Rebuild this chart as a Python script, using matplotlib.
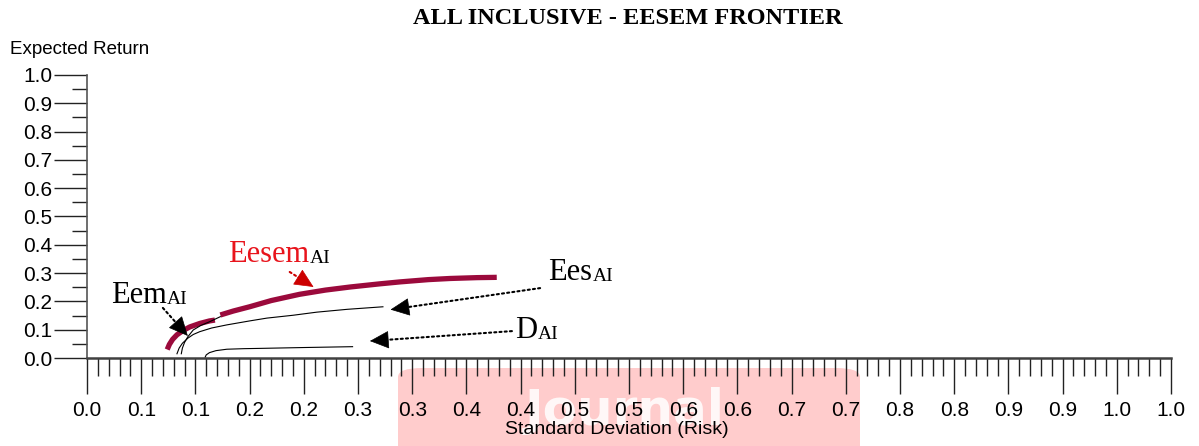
import matplotlib
matplotlib.use("Agg")
import matplotlib.pyplot as plt
from matplotlib.patches import FancyBboxPatch

# frontier curves (std dev, expected return)
eesem_lo_x = [0.074, 0.076, 0.079, 0.083, 0.089, 0.095, 0.104, 0.113, 0.118]
eesem_lo_y = [0.030, 0.048, 0.066, 0.082, 0.098, 0.110, 0.122, 0.131, 0.134]
eesem_hi_x = [0.123, 0.135, 0.150, 0.170, 0.196, 0.220, 0.243, 0.270, 0.289, 0.315, 0.335, 0.360, 0.378]
eesem_hi_y = [0.152, 0.166, 0.181, 0.203, 0.225, 0.240, 0.251, 0.262, 0.269, 0.277, 0.281, 0.284, 0.285]
eem_x = [0.087, 0.088, 0.090, 0.093, 0.098, 0.105, 0.113, 0.118, 0.123]
eem_y = [0.015, 0.035, 0.055, 0.075, 0.099, 0.115, 0.128, 0.137, 0.146]
ees_x = [0.083, 0.085, 0.088, 0.093, 0.098, 0.104, 0.115, 0.129, 0.150, 0.166, 0.190, 0.212, 0.240, 0.273]
ees_y = [0.015, 0.035, 0.052, 0.070, 0.083, 0.093, 0.106, 0.117, 0.131, 0.141, 0.151, 0.162, 0.172, 0.181]
d_x = [0.109, 0.110, 0.113, 0.119, 0.129, 0.145, 0.160, 0.200, 0.245]
d_y = [0.003, 0.011, 0.019, 0.026, 0.031, 0.033, 0.034, 0.037, 0.040]

x_ticks = [i * 0.05 for i in range(21)]
x_tick_labels = ["0.0", "0.1", "0.1", "0.2", "0.2", "0.3", "0.3", "0.4", "0.4", "0.5", "0.5",
                 "0.6", "0.6", "0.7", "0.7", "0.8", "0.8", "0.9", "0.9", "1.0", "1.0"]
y_ticks = [i * 0.1 for i in range(11)]
y_tick_labels = ["0.0", "0.1", "0.2", "0.3", "0.4", "0.5", "0.6", "0.7", "0.8", "0.9", "1.0"]

# labels: (name, text position, arrow tail, arrow head, colour)
labels = [
    ("Eesem", (0.130, 0.340), (0.187, 0.304), (0.209, 0.251), "#e8141c"),
    ("Eem", (0.022, 0.195), (0.070, 0.177), (0.093, 0.078), "black"),
    ("Ees", (0.425, 0.275), (0.418, 0.247), (0.280, 0.171), "black"),
    ("D", (0.395, 0.070), (0.392, 0.095), (0.261, 0.060), "black"),
]

W, H = 1199, 446
fig = plt.figure(figsize=(W / 100, H / 100), dpi=100)
ax = fig.add_axes([87 / W, (H - 358) / H, 1084 / W, 283 / H])
ax.patch.set_visible(False)

ax.plot(eesem_lo_x, eesem_lo_y, color="#9b0a3c", lw=3.8, solid_capstyle="butt")
ax.plot(eesem_hi_x, eesem_hi_y, color="#9b0a3c", lw=3.8, solid_capstyle="butt")
ax.plot(eem_x, eem_y, color="black", lw=0.8)
ax.plot(ees_x, ees_y, color="black", lw=0.8)
ax.plot(d_x, d_y, color="black", lw=0.8)

serif = "Liberation Serif"
for name, pos, tail, head, col in labels:
    t = ax.text(pos[0], pos[1], name, fontsize=22, family=serif, color=col, va="baseline")
    ax.annotate("AI", xy=(1, 0), xycoords=t, xytext=(0.5, 4.5), textcoords="offset points",
                fontsize=14, family=serif, color="black", va="baseline")
    acol = "#cc0000" if col != "black" else "black"
    ax.annotate("", xy=head, xytext=tail,
                arrowprops=dict(arrowstyle="-", color=acol, lw=1.5, linestyle=(0, (1, 1.5)),
                                shrinkA=0, shrinkB=8))
    dx = head[0] - tail[0]
    dy = head[1] - tail[1]
    ax.annotate("", xy=head, xytext=(head[0] - dx * 0.05, head[1] - dy * 0.05),
                arrowprops=dict(arrowstyle="-|>,head_length=0.9,head_width=0.42", color=acol,
                                lw=0.5, mutation_scale=14, shrinkA=0, shrinkB=0))

ax.set_xlim(0, 1.0)
ax.set_ylim(0, 1.0)
for s in ["top", "right"]:
    ax.spines[s].set_visible(False)
ax.spines["left"].set_color("#555555")
ax.spines["left"].set_linewidth(1.2)
ax.spines["bottom"].set_color("#404040")
ax.spines["bottom"].set_linewidth(1.8)

ax.set_xticks(x_ticks)
ax.set_xticklabels(x_tick_labels, fontsize=15, family="Liberation Sans")
ax.set_xticks([i * 0.01 for i in range(101)], minor=True)
ax.set_yticks(y_ticks)
ax.set_yticklabels(y_tick_labels, fontsize=15, family="Liberation Sans")
ax.set_yticks([0.05 + i * 0.1 for i in range(10)], minor=True)
ax.tick_params(axis="x", which="major", direction="out", length=26, width=1.0, pad=5, color="#222222")
ax.tick_params(axis="x", which="minor", direction="out", length=13, width=1.0, color="#222222")
ax.tick_params(axis="y", which="major", direction="out", length=24, width=1.0, pad=1, color="#222222")
ax.tick_params(axis="y", which="minor", direction="out", length=11, width=1.0, color="#222222")

# pink watermark behind the x axis labels
wm = FancyBboxPatch((398 / W, -0.05), 462 / W, (H - 368) / H + 0.05,
                    boxstyle="round,pad=0,rounding_size=0.02", transform=fig.transFigure,
                    facecolor="#ffcccc", edgecolor="none", zorder=-2)
fig.patches.append(wm)
fig.text(625 / W, 1 - 387 / H, "Journal", fontsize=36, fontweight="bold", color="white",
         ha="center", va="top", zorder=-1, alpha=0.85)

fig.text(628 / W, 1 - 19 / H, "ALL INCLUSIVE - EESEM FRONTIER", fontsize=17.5, fontweight="bold",
         family=serif, ha="center", va="center")
fig.text(10 / W, 1 - 50 / H, "Expected Return", fontsize=13.5, family="Liberation Sans",
         ha="left", va="center")
fig.text(617 / W, 1 - 430 / H, "Standard Deviation (Risk)", fontsize=14, family="Liberation Sans",
         ha="center", va="center")

fig.savefig("out.png", dpi=100)
